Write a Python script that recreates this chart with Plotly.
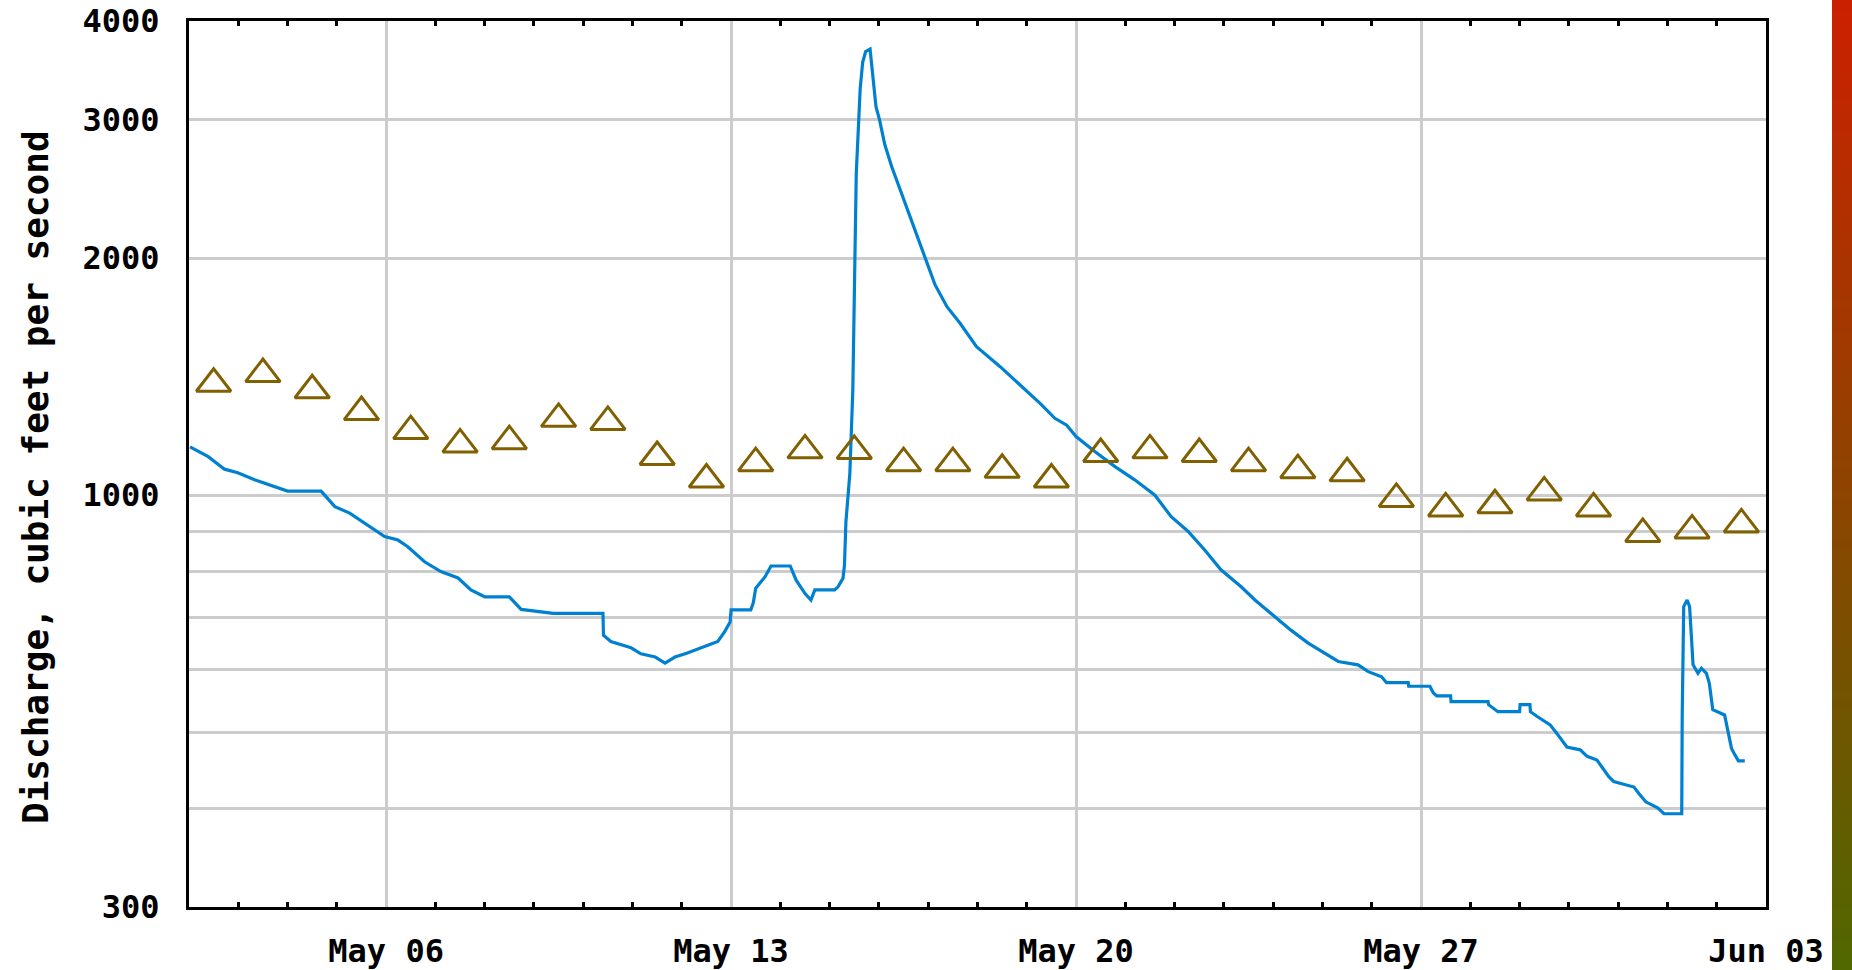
import pandas as pd
import plotly.graph_objects as go

# ---------------- data ----------------
start_date = "2019-05-02"

# instantaneous discharge: days since May 02 00:00, cubic feet per second
flow_day = [0.02, 0.39, 0.72, 0.99, 1.33, 2.0, 2.68, 2.96, 3.26, 3.8, 3.97, 4.24, 4.44, 4.78,
            5.11, 5.46, 5.72, 6.0, 6.5, 6.74, 7.39, 8.4, 8.41, 8.56, 8.97, 9.17, 9.46, 9.66,
            9.86, 10.1, 10.4, 10.73, 10.87, 10.98, 11.0, 11.4, 11.45, 11.5, 11.69, 11.81, 12.2,
            12.32, 12.5, 12.62, 12.7, 13.1, 13.17, 13.27, 13.3, 13.33, 13.41, 13.47, 13.54,
            13.62, 13.67, 13.73, 13.82, 13.87, 13.94, 14.01, 14.12, 14.26, 14.43, 14.59, 14.77,
            14.94, 15.14, 15.38, 15.65, 15.98, 16.46, 16.86, 17.27, 17.57, 17.81, 18.0, 18.38,
            18.79, 19.19, 19.6, 19.93, 20.27, 20.61, 20.94, 21.35, 21.63, 22.03, 22.36, 22.71,
            23.05, 23.32, 23.72, 23.93, 24.2, 24.3, 24.74, 24.75, 25.18, 25.25, 25.32, 25.6,
            25.61, 26.36, 26.37, 26.56, 27.0, 27.01, 27.21, 27.22, 27.35, 27.48, 27.62, 27.76,
            27.96, 28.23, 28.37, 28.57, 28.67, 28.81, 28.91, 29.32, 29.42, 29.56, 29.8, 29.93,
            30.29, 30.3, 30.33, 30.4, 30.45, 30.49, 30.52, 30.62, 30.69, 30.79, 30.85, 30.92,
            31.16, 31.23, 31.3, 31.37, 31.44, 31.57]
flow_cfs = [1152, 1119, 1079, 1068, 1046, 1012, 1012, 967, 949, 900, 886, 877, 860, 823,
            800, 785, 758, 743, 743, 716, 708, 708, 664, 652, 640, 629, 623, 612,
            623, 630, 640, 652, 671, 690, 715, 715, 730, 762, 788, 813, 813,
            780, 750, 736, 758, 758, 765, 784, 814, 925, 1066, 1360, 2563,
            3286, 3545, 3657, 3685, 3449, 3113, 3000, 2785, 2612, 2440, 2290, 2129,
            2000, 1849, 1735, 1652, 1544, 1456, 1380, 1308, 1252, 1227, 1187, 1136,
            1087, 1046, 1000, 939, 900, 852, 804, 765, 736, 701, 674, 649,
            630, 615, 609, 597, 588, 578, 578, 572, 572, 561, 556, 556,
            547, 547, 542, 531, 531, 542, 542, 531, 524, 517, 511, 498,
            479, 475, 466, 461, 452, 439, 433, 426, 418, 408, 401, 394,
            394, 526, 722, 736, 722, 661, 609, 594, 603, 594, 577, 534,
            526, 501, 477, 468, 460, 460]

# daily median discharge (one per day, plotted at noon), May 02 .. Jun 02
median_dates = pd.date_range("2019-05-02 12:00", periods=32, freq="D")
median_cfs = [1385, 1425, 1359, 1275, 1206, 1160, 1171, 1250, 1239, 1118, 1047, 1098,
              1140, 1138, 1098, 1098, 1077, 1047, 1128, 1140, 1128, 1098, 1076, 1066,
              989, 962, 971, 1008, 962, 893, 902, 918]

y_tickvals = [300, 400, 500, 600, 700, 800, 900, 1000, 2000, 3000, 4000]
y_ticktext = ["300", "", "", "", "", "", "", "1000", "2000", "3000", "4000"]
y_title = "Discharge, cubic feet per second"

# ---------------- figure ----------------
W, H = 1852, 970
L, R, T, B = 189, 86, 21, 63
pw, ph = W - L - R, H - T - B

flow_time = [pd.Timestamp(start_date) + pd.Timedelta(days=d) for d in flow_day]
x_range = ["2019-05-02 00:00", "2019-06-03 00:00"]

FONT = dict(family="DejaVu Sans Mono", size=32, color="black", weight="bold")

fig = go.Figure()
fig.add_trace(go.Scatter(
    x=flow_time, y=flow_cfs, mode="lines",
    line=dict(color="#0080D0", width=3.2),
    showlegend=False, hoverinfo="skip"))
fig.add_trace(go.Scatter(
    x=median_dates, y=median_cfs, mode="markers",
    marker=dict(symbol="triangle-up-open", size=30, color="#806000",
                line=dict(color="#806000", width=3)),
    showlegend=False, hoverinfo="skip"))
# invisible copy on the top axis so that its day ticks are drawn
fig.add_trace(go.Scatter(
    x=median_dates, y=median_cfs, mode="markers", xaxis="x2",
    marker=dict(size=1, opacity=0), showlegend=False, hoverinfo="skip"))

fig.update_layout(
    xaxis=dict(
        type="date", range=x_range,
        tick0="2019-05-06", dtick=7 * 86400000, tickformat="%b %d",
        showgrid=True, gridcolor="#CCCCCC", gridwidth=3,
        showline=True, linecolor="black", linewidth=3, mirror=True,
        ticks="inside", ticklen=5, tickwidth=3, tickcolor="#CCCCCC",
        minor=dict(dtick=86400000, ticks="inside", ticklen=5, tickwidth=3,
                   tickcolor="black", showgrid=False),
        tickfont=FONT, ticklabelstandoff=14,
        zeroline=False, automargin=False,
    ),
    xaxis2=dict(
        type="date", range=x_range, overlaying="x", side="top", anchor="y",
        tick0="2019-05-06", dtick=7 * 86400000,
        showgrid=False, showline=False, showticklabels=False,
        ticks="inside", ticklen=5, tickwidth=3, tickcolor="#CCCCCC",
        minor=dict(dtick=86400000, ticks="inside", ticklen=5, tickwidth=3,
                   tickcolor="black", showgrid=False),
        zeroline=False, automargin=False,
    ),
    yaxis=dict(
        type="log", range=[2.4771212547, 3.6020599913],
        tickvals=y_tickvals, ticktext=y_ticktext,
        showgrid=True, gridcolor="#CCCCCC", gridwidth=3,
        showline=True, linecolor="black", linewidth=3, mirror=True,
        ticks="", tickfont=FONT, ticklabelstandoff=20,
        zeroline=False, automargin=False,
    ),
)

# y-axis title as rotated annotation
fig.add_annotation(
    text=y_title, textangle=-90, showarrow=False,
    xref="paper", yref="paper",
    x=(35 - L) / pw, y=(H - B - 477) / ph,
    xanchor="center", yanchor="middle",
    font=dict(family="DejaVu Sans Mono", size=36, color="black", weight="bold"),
)

# decorative vertical colour strip at the right edge (red -> olive)
top_rgb = (204, 32, 0)
bot_rgb = (80, 104, 0)
n_strips = 97
for i in range(n_strips):
    f = (i + 0.5) / n_strips
    c = tuple(int(round(top_rgb[k] + (bot_rgb[k] - top_rgb[k]) * f)) for k in range(3))
    y0px, y1px = i * 10, (i + 1) * 10
    fig.add_shape(
        type="rect", xref="paper", yref="paper",
        x0=(1832 - L) / pw, x1=(1860 - L) / pw,
        y0=(H - B - y1px - 0.5) / ph, y1=(H - B - y0px + 0.5) / ph,
        fillcolor="rgb(%d,%d,%d)" % c, line=dict(width=0), layer="above",
    )

fig.update_layout(
    width=W, height=H,
    margin=dict(l=L, r=R, t=T, b=B, pad=0, autoexpand=False),
    paper_bgcolor="white", plot_bgcolor="white",
    showlegend=False,
)

fig.write_html("out.html", config={"displayModeBar": False},
               post_script="document.body.style.margin='0';document.body.style.overflow='hidden';")
